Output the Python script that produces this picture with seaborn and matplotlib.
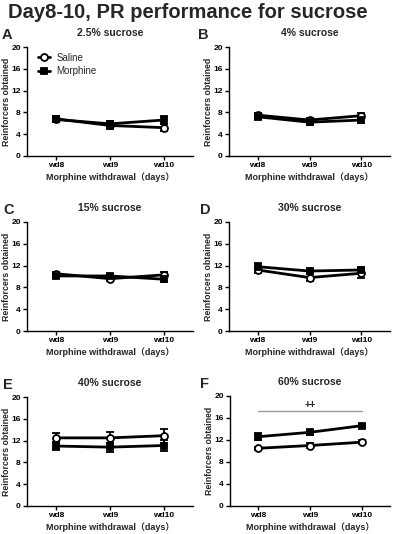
import numpy as np
import pandas as pd
import matplotlib
matplotlib.use("Agg")
import matplotlib.pyplot as plt
import seaborn as sns

sns.set_style("ticks")
plt.rcParams['font.family'] = ['Liberation Sans', 'Noto Sans CJK SC']
plt.rcParams['font.weight'] = 'bold'

days = ["wd8", "wd9", "wd10"]
panels = ["A", "B", "C", "D", "E", "F"]
titles = ["2.5% sucrose", "4% sucrose", "15% sucrose", "30% sucrose", "40% sucrose", "60% sucrose"]

saline_mean = [[6.8, 5.6, 5.2], [7.5, 6.6, 7.4], [10.5, 9.6, 10.3],
               [11.2, 9.8, 10.6], [12.5, 12.5, 12.9], [10.5, 11.0, 11.6]]
saline_sem = [[0.5, 0.7, 0.6], [0.3, 0.4, 0.5], [0.3, 0.4, 0.5],
              [0.5, 0.7, 0.8], [0.9, 1.0, 1.3], [0.3, 0.4, 0.4]]
morphine_mean = [[6.7, 5.9, 6.6], [7.2, 6.2, 6.6], [10.1, 10.1, 9.5],
                 [11.8, 11.0, 11.2], [11.0, 10.8, 11.1], [12.6, 13.4, 14.6]]
morphine_sem = [[0.5, 0.6, 0.8], [0.4, 0.5, 0.5], [0.4, 0.4, 0.6],
                [0.6, 0.4, 0.5], [0.8, 0.8, 1.0], [0.6, 0.5, 0.3]]
groups = ["Saline", "Morphine"]
sig_text = ["", "", "", "", "", "++"]
sig_level = [None, None, None, None, None, 17.2]

fig = plt.figure(figsize=(3.97, 5.34), dpi=100)
W, H = 397, 534
boxes = [(27, 47, 193, 156), (229, 47, 390, 156),
         (27, 222, 193, 331), (229, 222, 390, 331),
         (27, 397, 193, 506), (230, 396, 390, 506)]
letter_x = [2, 198, 3, 200, 3, 200]
ylabel_x = [11, 213, 11, 213, 11, 214]

fig.text(8 / W, 1 - 12 / H, "Day8-10, PR performance for sucrose",
         fontsize=14.5, fontweight='bold', ha='left', va='center')

for i, (l, t, r, b) in enumerate(boxes):
    ax = fig.add_axes([l / W, 1 - b / H, (r - l) / W, (b - t) / H])
    df = pd.DataFrame({
        "day": days * 2,
        "value": saline_mean[i] + morphine_mean[i],
        "sem": saline_sem[i] + morphine_sem[i],
        "group": ["Saline"] * 3 + ["Morphine"] * 3,
    })
    x = np.arange(len(days))
    for g, mk, mfc in [("Saline", "o", "white"), ("Morphine", "s", "black")]:
        sub = df[df.group == g]
        ax.errorbar(x, sub["value"], yerr=sub["sem"], fmt='none', ecolor='black',
                    elinewidth=1.3, capsize=3, capthick=1.3, zorder=2)
        sns.lineplot(data=sub, x="day", y="value", ax=ax, color='black',
                     marker=mk, markerfacecolor=mfc, markeredgecolor='black',
                     markeredgewidth=1.3, markersize=5, linewidth=2.0,
                     label=g, sort=False, zorder=3)
    ax.set_xlim(-0.55, 2.55)
    ax.set_ylim(0, 20)
    ax.set_yticks([0, 4, 8, 12, 16, 20])
    ax.set_xticks(x)
    ax.set_xticklabels(days)
    sns.despine(ax=ax)
    for s in ["left", "bottom"]:
        ax.spines[s].set_linewidth(1.0)
        ax.spines[s].set_color('black')
    ax.tick_params(axis='both', labelsize=6, width=1.0, length=3, pad=1.5, colors='black')
    for lab in ax.get_xticklabels() + ax.get_yticklabels():
        lab.set_fontweight('bold')
    ax.set_xlabel("Morphine withdrawal（days）", fontsize=6.5, fontweight='bold', labelpad=2)
    ax.set_ylabel("Reinforcers obtained", fontsize=6.3, fontweight='bold')
    ax.yaxis.set_label_coords((ylabel_x[i] - l) / (r - l), 0.5)
    ax.set_title(titles[i], fontsize=7.5, fontweight='bold', pad=8)
    fig.text(letter_x[i] / W, 1 - (t - 12) / H, panels[i],
             fontsize=10.5, fontweight='bold', ha='left', va='center')
    if sig_level[i] is not None:
        ax.plot([x[0], x[-1]], [sig_level[i]] * 2, color='#999999', linewidth=1.0)
        ax.text(x[1], sig_level[i] + 0.3, sig_text[i], ha='center', va='bottom',
                fontsize=7, fontweight='bold')
    if i == 0:
        leg = ax.legend(loc='upper left', frameon=False, fontsize=7, handlelength=1.3,
                        borderaxespad=0.2, handletextpad=0.6, labelspacing=0.35,
                        bbox_to_anchor=(0.03, 1.0))
        for txt in leg.get_texts():
            txt.set_fontweight('normal')
    else:
        leg = ax.get_legend()
        if leg is not None:
            leg.remove()

fig.savefig("out.png", dpi=100)
